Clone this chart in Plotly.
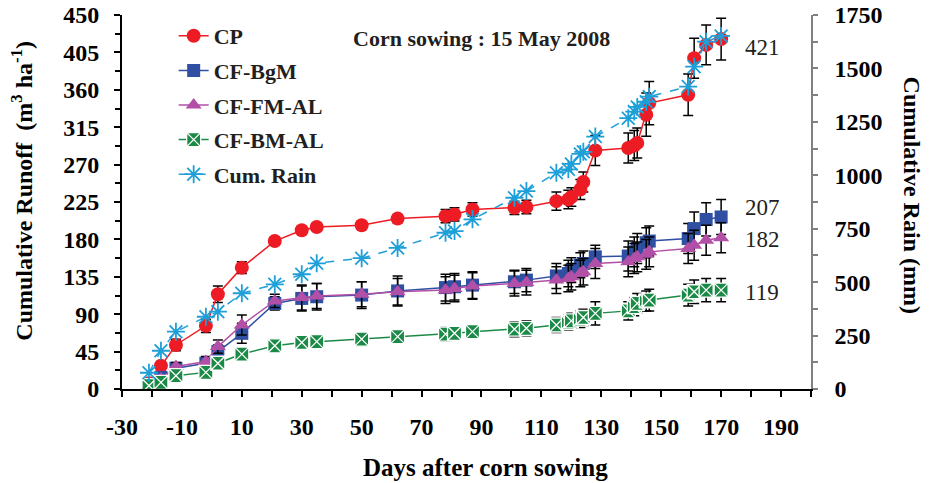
import plotly.graph_objects as go

# Sampling days relative to corn sowing
days = [-21, -17, -12, -2, 2, 10, 21, 30, 35, 50, 62, 78, 81, 87, 101, 105,
        115, 119, 120, 123, 124, 128, 139, 141, 142, 145, 146, 159, 161, 165, 170]

# Cumulative runoff (m3/ha) and standard errors
cp = [7, 28, 53, 76, 114, 146, 178, 191, 195, 197, 205, 208, 210, 216, 218, 219,
      226, 228, 231, 240, 249, 287, 290, 293, 296, 330, 344, 354, 398, 414, 421]
cp_err = [2, 5, 7, 8, 10, 7, 4, 4, 4, 4, 5, 8, 8, 8, 8, 8,
          11, 11, 11, 12, 12, 18, 18, 18, 18, 26, 26, 25, 24, 24, 25]

bgm = [5, 14, 25, 31, 45, 67, 103, 109, 111, 113, 118, 122, 123, 125, 129, 131,
       136, 139, 143, 149, 151, 159, 160, 165, 169, 176, 178, 181, 193, 204, 207]
bgm_err = [3, 4, 5, 6, 8, 12, 8, 15, 16, 16, 18, 16, 16, 16, 14, 14,
           15, 16, 15, 15, 15, 14, 18, 18, 18, 18, 18, 18, 20, 20, 21]

fmal = [4, 12, 27, 33, 51, 77, 106, 110, 112, 114, 117, 119, 121, 124, 127, 128,
        131, 133, 135, 139, 141, 151, 153, 157, 159, 162, 165, 169, 173, 179, 182]
fmal_err = [3, 4, 5, 6, 8, 12, 8, 15, 15, 15, 16, 16, 16, 16, 15, 15,
            16, 16, 16, 16, 16, 18, 18, 18, 18, 18, 18, 18, 18, 18, 18]

bmal = [4, 8, 16, 20, 31, 42, 52, 56, 57, 60, 63, 66, 67, 69, 72, 73,
        77, 80, 82, 84, 86, 91, 94, 99, 103, 106, 107, 113, 117, 119, 119]
bmal_err = [2, 3, 5, 5, 6, 6, 7, 7, 7, 7, 8, 8, 8, 8, 9, 9,
            9, 9, 9, 10, 10, 14, 11, 11, 12, 12, 13, 13, 14, 14, 14]

# Cumulative rainfall (mm)
rain = [76, 179, 268, 338, 362, 448, 490, 537, 588, 612, 660, 731, 739, 794, 895, 926,
        1012, 1028, 1053, 1100, 1110, 1181, 1267, 1298, 1320, 1344, 1368, 1415, 1508, 1625, 1652]

x_ticks = list(range(-30, 200, 20))
x_labels = [str(v) for v in x_ticks]          # plain hyphen for negatives
y_ticks = list(range(0, 451, 45))
y2_ticks = list(range(0, 1751, 250))
# en space in front keeps the right-hand labels clear of the grey axis
y2_labels = ["\u2002" + str(v) for v in y2_ticks]

SERIF = "Liberation Serif"
RED = "#ED1C24"
BLUE = "#2F4FA2"
PURPLE = "#B24FA6"
GREEN = "#1B8A47"
CYAN = "#1E9FD8"
INK = "#231F20"


def err(values):
    return dict(type="data", array=values, color="black", thickness=1.5, width=5)


fig = go.Figure()

fig.add_trace(go.Scatter(
    x=days, y=cp, name="CP", legendgroup="a", mode="lines+markers",
    line=dict(color=RED, width=1.5),
    marker=dict(symbol="circle", size=14, color=RED),
    error_y=err(cp_err)))

fig.add_trace(go.Scatter(
    x=days, y=bgm, name="CF-BgM", legendgroup="b", mode="lines+markers",
    line=dict(color=BLUE, width=1.5),
    marker=dict(symbol="square", size=13, color=BLUE),
    error_y=err(bgm_err)))

fig.add_trace(go.Scatter(
    x=days, y=fmal, name="CF-FM-AL", legendgroup="c", mode="lines+markers",
    line=dict(color=PURPLE, width=1.5),
    marker=dict(symbol="triangle-up", size=14, color=PURPLE),
    error_y=err(fmal_err)))

fig.add_trace(go.Scatter(
    x=days, y=bmal, name="CF-BM-AL", legendgroup="d", mode="lines+markers",
    line=dict(color=GREEN, width=1.5),
    marker=dict(symbol="square-x", size=14, color=GREEN,
                line=dict(color="white", width=1.3)),
    error_y=err(bmal_err)))

fig.add_trace(go.Scatter(
    x=days, y=rain, name="Cum. Rain", legendgroup="e", mode="lines+markers",
    yaxis="y2",
    line=dict(color=CYAN, width=1.5, dash="dash"),
    marker=dict(symbol="asterisk-open", size=15, color=CYAN,
                line=dict(color=CYAN, width=1.8))))

tick_font = dict(family=SERIF, size=24, color="black", weight="bold")

fig.update_layout(
    width=929, height=483,
    margin=dict(l=122, r=118, t=15, b=94, autoexpand=False),
    paper_bgcolor="white", plot_bgcolor="white",
    showlegend=True,
    legend=dict(
        x=0.075, y=1.0, xanchor="left", yanchor="top",
        font=dict(family=SERIF, size=22, color=INK, weight="bold"),
        bgcolor="rgba(0,0,0,0)", traceorder="grouped", tracegroupgap=3,
    ),
    xaxis=dict(
        range=[-30, 200], tickmode="array", tickvals=x_ticks, ticktext=x_labels,
        automargin=False,
        showline=True, linecolor="black", linewidth=2,
        ticks="outside", ticklen=6, tickwidth=1.5, tickcolor="black",
        minor=dict(dtick=10, tick0=-30, ticks="outside", ticklen=6,
                   tickwidth=1.5, tickcolor="black"),
        tickfont=tick_font, ticklabelstandoff=9,
        showgrid=False, zeroline=False,
    ),
    yaxis=dict(
        range=[0, 450], tickmode="array", tickvals=y_ticks,
        automargin=False,
        showline=True, linecolor="black", linewidth=2,
        ticks="outside", ticklen=6, tickwidth=1.5, tickcolor="black",
        minor=dict(dtick=22.5, tick0=0, ticks="outside", ticklen=5,
                   tickwidth=1.5, tickcolor="black"),
        tickfont=tick_font, ticklabelstandoff=10,
        showgrid=False, zeroline=False,
    ),
    yaxis2=dict(
        range=[0, 1750], tickmode="array", tickvals=y2_ticks, ticktext=y2_labels,
        overlaying="y", side="right", automargin=False,
        showline=True, linecolor="#808080", linewidth=1.5,
        ticks="outside", ticklen=5, tickwidth=1.5, tickcolor="#808080",
        minor=dict(dtick=125, tick0=0, ticks="outside", ticklen=5,
                   tickwidth=1.5, tickcolor="#808080"),
        tickfont=tick_font,
        showgrid=False, zeroline=False,
    ),
)

# Axis titles
fig.add_annotation(
    text="Days after corn sowing", xref="paper", yref="paper",
    x=0.5276, y=-0.2086, xanchor="center", yanchor="middle", showarrow=False,
    font=dict(family=SERIF, size=25, color="black", weight="bold"))
fig.add_annotation(
    text="Cumulative Runoff  (m<sup>3</sup> ha<sup>-1</sup>)",
    xref="paper", yref="paper", x=-0.1453, y=0.53,
    xanchor="center", yanchor="middle", textangle=-90, showarrow=False,
    font=dict(family=SERIF, size=24, color="black", weight="bold"))
fig.add_annotation(
    text="Cumulative Rain (mm)",
    xref="paper", yref="paper", x=1.147, y=0.519,
    xanchor="center", yanchor="middle", textangle=90, showarrow=False,
    font=dict(family=SERIF, size=24, color="black", weight="bold"))

# Sowing date note
fig.add_annotation(
    text="Corn sowing : 15 May 2008", xref="paper", yref="paper",
    x=0.522, y=0.9385, xanchor="center", yanchor="middle", showarrow=False,
    font=dict(family=SERIF, size=22, color=INK, weight="bold"))

# Final cumulative values beside each series
for series, dy in ((cp, -8), (bgm, 9), (fmal, -2), (bmal, -2)):
    fig.add_annotation(
        text=str(series[-1]), x=days[-1], y=series[-1], xref="x", yref="y",
        xanchor="left", yanchor="middle", xshift=22, yshift=dy, showarrow=False,
        font=dict(family=SERIF, size=23, color=INK))

fig.write_html("out.html")
